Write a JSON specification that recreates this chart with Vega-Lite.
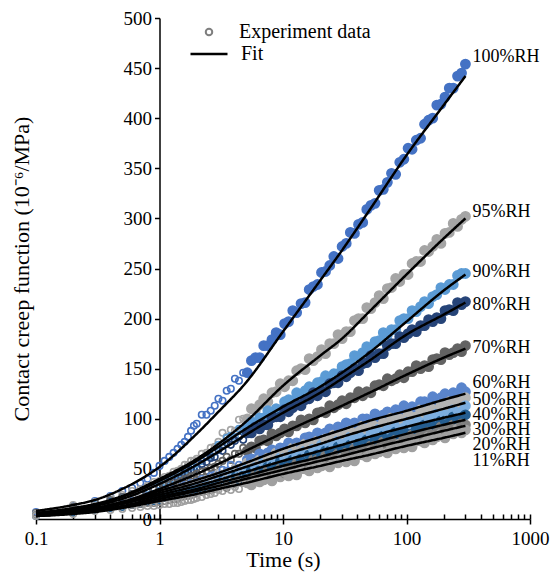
{
"$schema": "https://vega.github.io/schema/vega-lite/v6.json",
"width": 494, "height": 501,
"autosize": {"type": "none"},
"padding": {"left": 36, "top": 18, "right": 20, "bottom": 58},
"background": "white",
"config": {
  "view": {"stroke": null},
  "font": "Liberation Serif",
  "axis": {"grid": false, "domainColor": "black", "domainWidth": 1.5, "tickColor": "black", "tickWidth": 1.5, "labelColor": "black", "titleColor": "black", "labelFont": "Liberation Serif", "titleFont": "Liberation Serif", "titleFontWeight": "normal", "labelFontSize": 19, "titleFontSize": 22},
  "legend": {"labelFont": "Liberation Serif", "titleFont": "Liberation Serif"}
},
"datasets": {
"obs": [
{"t":0.1,"h100":7,"h95":6,"h90":5,"h80":5,"h70":6,"h60":4,"h50":5,"h40":4,"h30":3,"h20":4,"h11":3},
{"t":0.2,"h100":13,"h95":14,"h90":11,"h80":10,"h70":12,"h60":8,"h50":10,"h40":7,"h30":6,"h20":9,"h11":5},
{"t":0.3,"h100":18,"h95":17,"h90":14,"h80":13,"h70":16,"h60":12,"h50":13,"h40":10,"h30":9,"h20":11,"h11":8},
{"t":0.4,"h100":23,"h95":22,"h90":18,"h80":17,"h70":19,"h60":13,"h50":16,"h40":12,"h30":11,"h20":12,"h11":9},
{"t":0.5,"h100":28,"h95":24,"h90":21,"h80":19,"h70":22,"h60":16,"h50":17,"h40":14,"h30":12,"h20":14,"h11":10},
{"t":0.6,"h100":31,"h95":28,"h90":25,"h80":23,"h70":25,"h60":19,"h50":20,"h40":16,"h30":14,"h20":14,"h11":11},
{"t":0.7,"h100":36,"h95":30,"h90":27,"h80":25,"h70":26,"h60":20,"h50":21,"h40":18,"h30":15,"h20":15,"h11":12},
{"t":0.8,"h100":40,"h95":33,"h90":30,"h80":27,"h70":28,"h60":23,"h50":22,"h40":19,"h30":17,"h20":16,"h11":13},
{"t":0.9,"h100":46,"h95":37,"h90":31,"h80":30,"h70":30,"h60":23,"h50":24,"h40":21,"h30":18,"h20":16,"h11":13},
{"t":1.0,"h100":53,"h95":38,"h90":34,"h80":32,"h70":31,"h60":25,"h50":25,"h40":22,"h30":19,"h20":17,"h11":14},
{"t":1.1,"h100":58,"h95":42,"h90":37,"h80":34,"h70":33,"h60":27,"h50":27,"h40":24,"h30":21,"h20":18,"h11":15},
{"t":1.2,"h100":62,"h95":43,"h90":39,"h80":37,"h70":34,"h60":28,"h50":27,"h40":24,"h30":22,"h20":19,"h11":15},
{"t":1.3,"h100":66,"h95":47,"h90":40,"h80":38,"h70":36,"h60":30,"h50":29,"h40":26,"h30":23,"h20":20,"h11":16},
{"t":1.4,"h100":70,"h95":48,"h90":44,"h80":41,"h70":36,"h60":30,"h50":30,"h40":27,"h30":23,"h20":20,"h11":16},
{"t":1.5,"h100":74,"h95":50,"h90":45,"h80":42,"h70":38,"h60":32,"h50":31,"h40":28,"h30":25,"h20":22,"h11":17},
{"t":1.6,"h100":77,"h95":54,"h90":48,"h80":45,"h70":40,"h60":34,"h50":32,"h40":29,"h30":26,"h20":23,"h11":18},
{"t":1.7,"h100":82,"h95":54,"h90":49,"h80":46,"h70":41,"h60":34,"h50":34,"h40":29,"h30":26,"h20":23,"h11":19},
{"t":1.8,"h100":88,"h95":58,"h90":52,"h80":49,"h70":43,"h60":36,"h50":34,"h40":31,"h30":27,"h20":24,"h11":19},
{"t":1.9,"h100":93,"h95":58,"h90":52,"h80":49,"h70":43,"h60":36,"h50":36,"h40":31,"h30":28,"h20":25,"h11":20},
{"t":2.0,"h100":95,"h95":60,"h90":55,"h80":51,"h70":45,"h60":37,"h50":36,"h40":32,"h30":29,"h20":26,"h11":21},
{"t":2.2,"h100":104,"h95":65,"h90":58,"h80":55,"h70":47,"h60":40,"h50":38,"h40":34,"h30":30,"h20":27,"h11":22},
{"t":2.4,"h100":104,"h95":66,"h90":62,"h80":57,"h70":48,"h60":40,"h50":40,"h40":35,"h30":31,"h20":28,"h11":24},
{"t":2.6,"h100":108,"h95":71,"h90":63,"h80":61,"h70":51,"h60":43,"h50":40,"h40":37,"h30":33,"h20":29,"h11":25},
{"t":2.8,"h100":113,"h95":72,"h90":67,"h80":62,"h70":52,"h60":44,"h50":42,"h40":38,"h30":34,"h20":30,"h11":26},
{"t":3.0,"h100":120,"h95":77,"h90":74,"h80":69,"h70":55,"h60":43,"h50":46,"h40":37,"h30":34,"h20":32,"h11":29},
{"t":3.24,"h100":118,"h95":86,"h90":74,"h80":68,"h70":58,"h60":49,"h50":42,"h40":43,"h30":40,"h20":35,"h11":28},
{"t":3.5,"h100":128,"h95":82,"h90":81,"h80":76,"h70":62,"h60":48,"h50":46,"h40":44,"h30":37,"h20":31,"h11":33},
{"t":3.78,"h100":130,"h95":89,"h90":83,"h80":74,"h70":59,"h60":54,"h50":44,"h40":42,"h30":40,"h20":36,"h11":29},
{"t":4.08,"h100":140,"h95":88,"h90":82,"h80":78,"h70":65,"h60":51,"h50":51,"h40":48,"h30":43,"h20":35,"h11":32},
{"t":4.4,"h100":138,"h95":99,"h90":90,"h80":82,"h70":65,"h60":54,"h50":51,"h40":45,"h30":39,"h20":40,"h11":30},
{"t":4.76,"h100":146,"h95":100,"h90":88,"h80":79,"h70":71,"h60":53,"h50":50,"h40":48,"h30":44,"h20":36,"h11":36},
{"t":5.14,"h100":146,"h95":100,"h90":92,"h80":86,"h70":68,"h60":59,"h50":56,"h40":51,"h30":43,"h20":39,"h11":36},
{"t":5.55,"h100":158,"h95":110,"h90":97,"h80":86,"h70":72,"h60":60,"h50":54,"h40":47,"h30":49,"h20":38,"h11":34},
{"t":5.99,"h100":161,"h95":109,"h90":94,"h80":92,"h70":71,"h60":59,"h50":56,"h40":52,"h30":45,"h20":44,"h11":40},
{"t":6.47,"h100":161,"h95":114,"h90":101,"h80":90,"h70":78,"h60":65,"h50":59,"h40":52,"h30":48,"h20":44,"h11":37},
{"t":6.98,"h100":173,"h95":120,"h90":101,"h80":94,"h70":79,"h60":63,"h50":56,"h40":57,"h30":46,"h20":42,"h11":39},
{"t":7.54,"h100":173,"h95":117,"h90":108,"h80":94,"h70":78,"h60":66,"h50":61,"h40":53,"h30":52,"h20":48,"h11":42},
{"t":8.14,"h100":179,"h95":126,"h90":105,"h80":101,"h70":85,"h60":69,"h50":61,"h40":56,"h30":52,"h20":45,"h11":38},
{"t":8.8,"h100":186,"h95":127,"h90":110,"h80":102,"h70":83,"h60":66,"h50":66,"h40":55,"h30":51,"h20":47,"h11":43},
{"t":9.5,"h100":184,"h95":135,"h90":109,"h80":102,"h70":86,"h60":71,"h50":63,"h40":61,"h30":57,"h20":50,"h11":42},
{"t":10.3,"h100":195,"h95":132,"h90":117,"h80":109,"h70":90,"h60":71,"h50":66,"h40":61,"h30":54,"h20":46,"h11":47},
{"t":11.1,"h100":197,"h95":138,"h90":119,"h80":107,"h70":87,"h60":76,"h50":64,"h40":59,"h30":56,"h20":51,"h11":43},
{"t":12,"h100":208,"h95":138,"h90":118,"h80":111,"h70":93,"h60":73,"h50":71,"h40":65,"h30":59,"h20":50,"h11":46},
{"t":12.9,"h100":206,"h95":148,"h90":126,"h80":115,"h70":93,"h60":76,"h50":71,"h40":63,"h30":55,"h20":55,"h11":44},
{"t":14,"h100":215,"h95":150,"h90":124,"h80":113,"h70":99,"h60":75,"h50":69,"h40":65,"h30":60,"h20":51,"h11":50},
{"t":15.1,"h100":216,"h95":149,"h90":128,"h80":119,"h70":96,"h60":81,"h50":75,"h40":68,"h30":59,"h20":54,"h11":50},
{"t":16.3,"h100":229,"h95":160,"h90":132,"h80":120,"h70":100,"h60":82,"h50":73,"h40":64,"h30":64,"h20":52,"h11":48},
{"t":17.6,"h100":232,"h95":158,"h90":130,"h80":126,"h70":99,"h60":80,"h50":75,"h40":70,"h30":61,"h20":59,"h11":54},
{"t":19,"h100":234,"h95":162,"h90":136,"h80":123,"h70":106,"h60":86,"h50":78,"h40":69,"h30":64,"h20":59,"h11":51},
{"t":20.5,"h100":246,"h95":169,"h90":137,"h80":128,"h70":107,"h60":84,"h50":75,"h40":74,"h30":62,"h20":57,"h11":53},
{"t":22.1,"h100":247,"h95":165,"h90":143,"h80":127,"h70":106,"h60":86,"h50":80,"h40":70,"h30":68,"h20":63,"h11":56},
{"t":23.9,"h100":253,"h95":175,"h90":141,"h80":135,"h70":113,"h60":90,"h50":79,"h40":73,"h30":68,"h20":60,"h11":52},
{"t":25.8,"h100":262,"h95":175,"h90":145,"h80":136,"h70":111,"h60":86,"h50":84,"h40":72,"h30":66,"h20":62,"h11":57},
{"t":27.9,"h100":260,"h95":184,"h90":145,"h80":136,"h70":114,"h60":92,"h50":81,"h40":78,"h30":72,"h20":65,"h11":56},
{"t":30.1,"h100":272,"h95":180,"h90":152,"h80":143,"h70":118,"h60":91,"h50":84,"h40":78,"h30":69,"h20":61,"h11":61},
{"t":32.5,"h100":275,"h95":187,"h90":154,"h80":142,"h70":115,"h60":96,"h50":82,"h40":76,"h30":71,"h20":66,"h11":57},
{"t":35.1,"h100":286,"h95":187,"h90":155,"h80":146,"h70":121,"h60":92,"h50":88,"h40":82,"h30":74,"h20":65,"h11":60},
{"t":37.9,"h100":285,"h95":198,"h90":163,"h80":150,"h70":121,"h60":96,"h50":88,"h40":79,"h30":70,"h20":70,"h11":58},
{"t":40.9,"h100":294,"h95":200,"h90":162,"h80":148,"h70":127,"h60":94,"h50":87,"h40":81,"h30":75,"h20":66,"h11":64},
{"t":44.2,"h100":296,"h95":200,"h90":166,"h80":155,"h70":123,"h60":100,"h50":93,"h40":84,"h30":74,"h20":69,"h11":64},
{"t":47.7,"h100":309,"h95":211,"h90":172,"h80":156,"h70":127,"h60":100,"h50":90,"h40":80,"h30":79,"h20":67,"h11":62},
{"t":51.5,"h100":313,"h95":210,"h90":170,"h80":163,"h70":126,"h60":98,"h50":92,"h40":85,"h30":75,"h20":73,"h11":68},
{"t":55.6,"h100":315,"h95":216,"h90":177,"h80":161,"h70":133,"h60":105,"h50":95,"h40":85,"h30":79,"h20":73,"h11":65},
{"t":60.1,"h100":328,"h95":223,"h90":178,"h80":165,"h70":134,"h60":102,"h50":91,"h40":90,"h30":77,"h20":71,"h11":67},
{"t":64.9,"h100":329,"h95":220,"h90":186,"h80":165,"h70":133,"h60":104,"h50":96,"h40":86,"h30":83,"h20":77,"h11":70},
{"t":70,"h100":336,"h95":230,"h90":184,"h80":173,"h70":140,"h60":107,"h50":95,"h40":89,"h30":83,"h20":74,"h11":66},
{"t":75.6,"h100":345,"h95":231,"h90":189,"h80":175,"h70":138,"h60":103,"h50":101,"h40":87,"h30":81,"h20":76,"h11":71},
{"t":81.7,"h100":344,"h95":240,"h90":189,"h80":175,"h70":140,"h60":109,"h50":97,"h40":93,"h30":87,"h20":79,"h11":70},
{"t":88.2,"h100":356,"h95":237,"h90":198,"h80":182,"h70":144,"h60":108,"h50":100,"h40":93,"h30":84,"h20":75,"h11":75},
{"t":95.2,"h100":359,"h95":244,"h90":200,"h80":181,"h70":141,"h60":113,"h50":98,"h40":91,"h30":86,"h20":80,"h11":71},
{"t":103,"h100":370,"h95":244,"h90":200,"h80":185,"h70":147,"h60":109,"h50":104,"h40":97,"h30":89,"h20":79,"h11":74},
{"t":111,"h100":369,"h95":255,"h90":208,"h80":189,"h70":147,"h60":112,"h50":104,"h40":94,"h30":85,"h20":84,"h11":72},
{"t":120,"h100":378,"h95":257,"h90":207,"h80":187,"h70":153,"h60":111,"h50":102,"h40":96,"h30":90,"h20":80,"h11":78},
{"t":130,"h100":380,"h95":257,"h90":212,"h80":193,"h70":150,"h60":117,"h50":109,"h40":99,"h30":89,"h20":83,"h11":78},
{"t":140,"h100":394,"h95":268,"h90":217,"h80":193,"h70":153,"h60":117,"h50":106,"h40":96,"h30":94,"h20":81,"h11":76},
{"t":151,"h100":398,"h95":267,"h90":215,"h80":199,"h70":152,"h60":115,"h50":108,"h40":101,"h30":90,"h20":87,"h11":82},
{"t":163,"h100":400,"h95":272,"h90":222,"h80":197,"h70":159,"h60":122,"h50":111,"h40":100,"h30":93,"h20":87,"h11":79},
{"t":176,"h100":413,"h95":279,"h90":224,"h80":201,"h70":160,"h60":119,"h50":108,"h40":105,"h30":92,"h20":86,"h11":82},
{"t":190,"h100":414,"h95":275,"h90":231,"h80":200,"h70":159,"h60":121,"h50":113,"h40":101,"h30":98,"h20":92,"h11":85},
{"t":205,"h100":421,"h95":285,"h90":229,"h80":208,"h70":166,"h60":125,"h50":112,"h40":104,"h30":98,"h20":89,"h11":81},
{"t":222,"h100":430,"h95":286,"h90":234,"h80":209,"h70":164,"h60":121,"h50":117,"h40":102,"h30":96,"h20":91,"h11":86},
{"t":239,"h100":430,"h95":295,"h90":234,"h80":208,"h70":166,"h60":126,"h50":113,"h40":109,"h30":102,"h20":94,"h11":85},
{"t":259,"h100":442,"h95":292,"h90":243,"h80":216,"h70":170,"h60":125,"h50":117,"h40":109,"h30":99,"h20":90,"h11":90},
{"t":279,"h100":445,"h95":299,"h90":245,"h80":214,"h70":167,"h60":131,"h50":115,"h40":107,"h30":101,"h20":95,"h11":86},
{"t":300,"h100":454,"h95":302,"h90":245,"h80":217,"h70":173,"h60":127,"h50":121,"h40":113,"h30":104,"h20":94,"h11":89}
],
"fit": [
{"t":0.1,"h100":8,"h95":6,"h90":6,"h80":5,"h70":5,"h60":4,"h50":4,"h40":4,"h30":3,"h20":3,"h11":3},
{"t":0.2,"h100":14,"h95":11,"h90":10,"h80":9,"h70":8,"h60":8,"h50":7,"h40":7,"h30":6,"h20":6,"h11":5},
{"t":0.3,"h100":19,"h95":15,"h90":14,"h80":13,"h70":11,"h60":11,"h50":10,"h40":10,"h30":9,"h20":8,"h11":7},
{"t":0.5,"h100":30,"h95":23,"h90":22,"h80":20,"h70":17,"h60":17,"h50":16,"h40":15,"h30":13,"h20":12,"h11":11},
{"t":1,"h100":52,"h95":40,"h90":38,"h80":35,"h70":30,"h60":28,"h50":26,"h40":24,"h30":22,"h20":20,"h11":18},
{"t":2,"h100":85,"h95":60,"h90":58,"h80":54,"h70":45,"h60":39,"h50":36,"h40":33,"h30":30,"h20":28,"h11":25},
{"t":3,"h100":107,"h95":75,"h90":72,"h80":67,"h70":55,"h60":46,"h50":43,"h40":39,"h30":36,"h20":33,"h11":30},
{"t":5,"h100":136,"h95":97,"h90":90,"h80":84,"h70":68,"h60":56,"h50":52,"h40":47,"h30":43,"h20":40,"h11":36},
{"t":10,"h100":187,"h95":133,"h90":112,"h80":106,"h70":86,"h60":70,"h50":64,"h40":58,"h30":53,"h20":49,"h11":45},
{"t":20,"h100":238,"h95":163,"h90":132,"h80":126,"h70":103,"h60":82,"h50":75,"h40":68,"h30":62,"h20":58,"h11":53},
{"t":30,"h100":268,"h95":180,"h90":146,"h80":140,"h70":113,"h60":89,"h50":82,"h40":74,"h30":68,"h20":63,"h11":58},
{"t":50,"h100":308,"h95":207,"h90":166,"h80":158,"h70":126,"h60":98,"h50":90,"h40":82,"h30":75,"h20":70,"h11":64},
{"t":100,"h100":363,"h95":244,"h90":197,"h80":184,"h70":144,"h60":108,"h50":100,"h40":92,"h30":85,"h20":79,"h11":73},
{"t":200,"h100":413,"h95":280,"h90":228,"h80":204,"h70":161,"h60":119,"h50":110,"h40":101,"h30":94,"h20":88,"h11":81},
{"t":300,"h100":442,"h95":300,"h90":244,"h80":216,"h70":170,"h60":125,"h50":116,"h40":106,"h30":99,"h20":93,"h11":86}
],
"lab": [
{"lab":"100%RH","t":300,"J":461},
{"lab":"95%RH","t":300,"J":306},
{"lab":"90%RH","t":300,"J":247},
{"lab":"80%RH","t":300,"J":214},
{"lab":"70%RH","t":300,"J":171},
{"lab":"60%RH","t":300,"J":136},
{"lab":"50%RH","t":300,"J":119},
{"lab":"40%RH","t":300,"J":104},
{"lab":"30%RH","t":300,"J":89},
{"lab":"20%RH","t":300,"J":74},
{"lab":"11%RH","t":300,"J":58}
]
},
"encoding": {
  "y": {"field": "J", "type": "quantitative", "scale": {"domain": [0, 500], "nice": false},
        "axis": {"values": [0,50,100,150,200,250,300,350,400,450,500], "title": "Contact creep function (10⁻⁶/MPa)", "offset": -123.5, "tickSize": 5, "labelPadding": 3, "titlePadding": 90, "labelFont": "Liberation Serif", "titleFont": "Liberation Serif", "labelFontSize": 19, "titleFontSize": 22, "titleFontWeight": "normal", "labelFlush": false}}
},
"layer": [
  {
    "data": {"name": "obs"},
    "transform": [{"fold": ["h100","h95","h90","h80","h70","h60","h50","h40","h30","h20","h11"], "as": ["rh", "J"]}],
    "mark": {"type": "point", "filled": true, "strokeWidth": 1.6, "opacity": 1},
    "encoding": {
      "x": {"field": "t", "type": "quantitative", "scale": {"type": "log", "domain": [0.1, 1000], "nice": false},
            "axis": {"orient": "bottom", "values": [0.1, 1, 10, 100, 1000], "format": "~g", "tickSize": 5, "labelPadding": 5, "labelFlush": false, "title": "Time (s)", "titlePadding": 1, "labelFont": "Liberation Serif", "titleFont": "Liberation Serif", "labelFontSize": 19, "titleFontSize": 22, "titleFontWeight": "normal"}},
      "fill": {"field": "rh", "type": "nominal", "legend": null,
        "scale": {"domain": ["h100","h95","h90","h80","h70","h60","h50","h40","h30","h20","h11"],
                  "range": ["#4472C4","#A5A5A5","#5B9BD5","#264478","#636363","#5A85CC","#B4B4B4","#7DAEDF","#255E91","#7F7F7F","#A0A0A0"]}},
      "stroke": {"field": "rh", "type": "nominal", "legend": null,
        "scale": {"domain": ["h100","h95","h90","h80","h70","h60","h50","h40","h30","h20","h11"],
                  "range": ["#4472C4","#A5A5A5","#5B9BD5","#264478","#636363","#5A85CC","#B4B4B4","#7DAEDF","#255E91","#7F7F7F","#A0A0A0"]}},
      "fillOpacity": {"condition": {"test": "datum.t >= 5", "value": 1}, "value": 0},
      "size": {"condition": {"test": "datum.t >= 5", "value": 85}, "value": 42},
      "shape": {"datum": "Experiment data", "type": "nominal", "scale": {"domain": ["Experiment data"], "range": ["circle"]},
        "legend": {"orient": "none", "legendX": 163, "legendY": 4, "title": null, "padding": 0, "symbolSize": 42, "symbolStrokeWidth": 2, "symbolStrokeColor": "#7F7F7F", "symbolFillColor": "transparent", "symbolOpacity": 1, "labelFontSize": 20, "labelFont": "Liberation Serif", "labelColor": "black", "labelOffset": 20}}
    }
  },
  {
    "data": {"name": "fit"},
    "transform": [{"fold": ["h100","h95","h90","h80","h70","h60","h50","h40","h30","h20","h11"], "as": ["rh", "J"]}],
    "mark": {"type": "line", "color": "black", "strokeWidth": 2.5, "interpolate": "monotone"},
    "encoding": {
      "x": {"field": "t", "type": "quantitative", "scale": {"type": "log", "domain": [0.1, 1000], "nice": false},
            "axis": {"orient": "bottom", "values": [0.1,0.2,0.3,0.4,0.5,0.6,0.7,0.8,0.9,1,2,3,4,5,6,7,8,9,10,20,30,40,50,60,70,80,90,100,200,300,400,500,600,700,800,900,1000], "tickSize": -5, "labels": false, "domain": false, "title": null}},
      "detail": {"field": "rh"},
      "strokeDash": {"datum": "Fit", "type": "nominal", "scale": {"domain": ["Fit"], "range": [[1, 0]]},
        "legend": {"orient": "none", "legendX": 153, "legendY": 16, "title": null, "padding": 0, "symbolType": "stroke", "symbolSize": 1369, "symbolStrokeWidth": 2.5, "symbolStrokeColor": "black", "labelFontSize": 20, "labelFont": "Liberation Serif", "labelColor": "black", "labelOffset": 12}}
    }
  },
  {
    "data": {"name": "lab"},
    "mark": {"type": "text", "align": "left", "baseline": "middle", "dx": 7, "fontSize": 18, "font": "Liberation Serif", "color": "black"},
    "encoding": {
      "x": {"field": "t", "type": "quantitative", "scale": {"type": "log", "domain": [0.1, 1000], "nice": false}, "axis": null},
      "text": {"field": "lab"}
    }
  }
],
"resolve": {"axis": {"x": "independent"}}
}
